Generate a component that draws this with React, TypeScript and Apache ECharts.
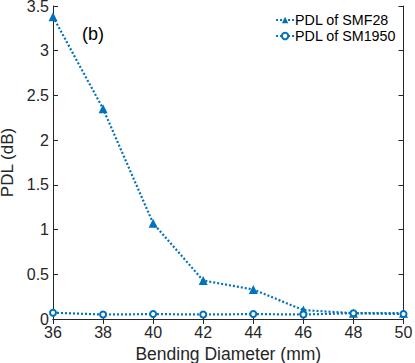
import React, { useEffect, useRef } from "react";
import * as echarts from "echarts";

const diameters = [36, 38, 40, 42, 44, 46, 48, 50];
const smf28 = [3.38, 2.35, 1.07, 0.43, 0.33, 0.1, 0.065, 0.065];
const sm1950 = [0.07, 0.05, 0.055, 0.05, 0.055, 0.05, 0.065, 0.055];
const seriesNames = ["PDL of SMF28", "PDL of SM1950"];

const BLUE = "#0072BD";
const AX = "#262626";
const FONT = "Liberation Sans, Arial, sans-serif";

export default function App() {
  const ref = useRef<HTMLDivElement>(null);
  useEffect(() => {
    if (!ref.current) return;
    const chart = echarts.init(ref.current, null, { renderer: "svg" });
    const axisCommon = {
      axisLine: { show: true, lineStyle: { color: AX, width: 1 } },
      axisTick: { show: true, inside: true, length: 5, lineStyle: { color: AX } },
      splitLine: { show: false },
    };
    chart.setOption({
      animation: false,
      backgroundColor: "#fff",
      textStyle: { fontFamily: FONT },
      grid: {
        left: 53,
        right: 11.5,
        top: 6,
        bottom: 44,
        containLabel: false,
        outerBoundsMode: "none",
      },
      legend: {
        right: 19,
        top: 13,
        padding: 0,
        orient: "vertical",
        align: "left",
        itemGap: 2,
        itemWidth: 18,
        itemHeight: 8,
        textStyle: { fontSize: 14.3, color: "#000", fontFamily: FONT, padding: [0, 0, 0, -4] },
        data: seriesNames,
      },
      xAxis: [
        {
          type: "value",
          min: 36,
          max: 50,
          interval: 2,
          name: "Bending Diameter (mm)",
          nameLocation: "middle",
          nameGap: 25,
          nameTextStyle: { fontSize: 17.5, color: AX, fontFamily: FONT },
          axisLabel: { fontSize: 16, color: AX, margin: 5, fontFamily: FONT },
          ...axisCommon,
        },
        {
          type: "value",
          position: "top",
          min: 36,
          max: 50,
          interval: 2,
          axisLabel: { show: false },
          ...axisCommon,
        },
      ],
      yAxis: [
        {
          type: "value",
          min: 0,
          max: 3.5,
          interval: 0.5,
          name: "PDL (dB)",
          nameLocation: "middle",
          nameGap: 34,
          nameTextStyle: { fontSize: 17, color: AX, fontFamily: FONT },
          axisLabel: { fontSize: 16, color: AX, margin: 4, fontFamily: FONT },
          ...axisCommon,
        },
        {
          type: "value",
          position: "right",
          min: 0,
          max: 3.5,
          interval: 0.5,
          axisLabel: { show: false },
          ...axisCommon,
        },
      ],
      graphic: [
        {
          type: "text",
          left: 82,
          top: 25,
          style: { text: "(b)", fontSize: 18, fill: "#000", fontFamily: FONT },
        },
      ],
      series: [
        {
          name: seriesNames[0],
          type: "line",
          data: diameters.map((d, i) => [d, smf28[i]]),
          symbol: "triangle",
          symbolSize: 9,
          showAllSymbol: true,
          lineStyle: { color: BLUE, width: 2.2, type: [2, 2] },
          itemStyle: { color: BLUE },
        },
        {
          name: seriesNames[1],
          type: "line",
          data: diameters.map((d, i) => [d, sm1950[i]]),
          symbol: "emptyCircle",
          symbolSize: 6,
          showAllSymbol: true,
          lineStyle: { color: BLUE, width: 2.2, type: [2, 2] },
          itemStyle: { color: BLUE, borderColor: BLUE, borderWidth: 2.5 },
        },
      ],
    });
    return () => chart.dispose();
  }, []);
  return (
    <div
      ref={ref}
      style={{ position: "absolute", left: 0, top: 0, width: 415, height: 363 }}
    />
  );
}
